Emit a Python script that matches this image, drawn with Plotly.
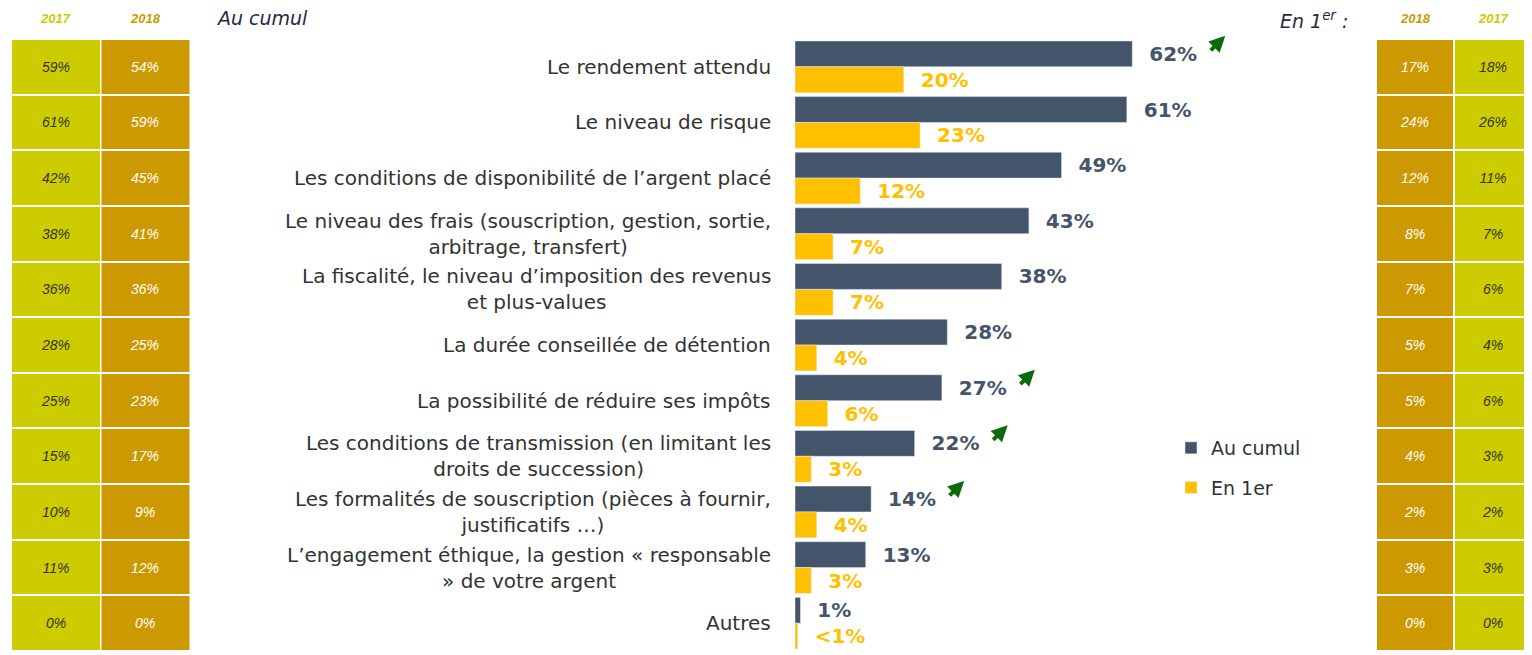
import plotly.graph_objects as go

# Critères de choix d'un placement
categories = [
    "Le rendement attendu",
    "Le niveau de risque",
    "Les conditions de disponibilité de l’argent placé",
    "Le niveau des frais (souscription, gestion, sortie,<br>arbitrage, transfert)",
    "La fiscalité, le niveau d’imposition des revenus<br>et plus-values",
    "La durée conseillée de détention",
    "La possibilité de réduire ses impôts",
    "Les conditions de transmission (en limitant les<br>droits de succession)",
    "Les formalités de souscription (pièces à fournir,<br>justificatifs …)",
    "L’engagement éthique, la gestion « responsable<br>» de votre argent",
    "Autres",
]
au_cumul = [62, 61, 49, 43, 38, 28, 27, 22, 14, 13, 1]
en_1er = [20, 23, 12, 7, 7, 4, 6, 3, 4, 3, 0.5]
en_1er_labels = ["20%", "23%", "12%", "7%", "7%", "4%", "6%", "3%", "4%", "3%", "<1%"]
hausse = [True, False, False, False, False, False, True, True, True, False, False]

years_left = ["2017", "2018"]
years_right = ["2018", "2017"]
cumul_2017 = [59, 61, 42, 38, 36, 28, 25, 15, 10, 11, 0]
cumul_2018 = [54, 59, 45, 41, 36, 25, 23, 17, 9, 12, 0]
premier_2018 = [17, 24, 12, 8, 7, 5, 5, 4, 2, 3, 0]
premier_2017 = [18, 26, 11, 7, 6, 4, 6, 3, 2, 3, 0]

DARK = "#44546A"
YEL = "#FFC000"
C2017 = "#CCCC00"
C2018 = "#CC9900"
FONT = "DejaVu Sans"

# the page body adds 8px around the figure
OFF = 8
W, H = 1532 - OFF, 655 - OFF


def px(x):
    return (x - OFF) / W


def py(y):
    return 1 - (y - OFF) / H


ids = list(range(len(categories)))
row_h = 55.64
top = 39 - OFF
y_range = [-0.5 + (H - top) / row_h, -0.5 - top / row_h]
scale = 5.44  # px per %

fig = go.Figure()

fig.add_trace(go.Bar(
    y=ids, x=au_cumul, orientation="h", name="Au cumul",
    marker_color=DARK, legendgroup="a",
    text=["  %d%%" % v for v in au_cumul], textposition="outside",
    textfont=dict(color=DARK, size=20, family=FONT, weight="bold"),
    cliponaxis=False, hoverinfo="skip",
))
fig.add_trace(go.Bar(
    y=ids, x=en_1er, orientation="h", name="En 1er",
    marker_color=YEL, legendgroup="b",
    text=["  " + t for t in en_1er_labels], textposition="outside",
    textfont=dict(color=YEL, size=20, family=FONT, weight="bold"),
    cliponaxis=False, hoverinfo="skip",
))


def cell_column(values, col, xaxis, color, txtcolor):
    fig.add_trace(go.Heatmap(
        x=[col], y=ids, z=[[1] for _ in values],
        text=[["%d%%" % v] for v in values], texttemplate="%{text}",
        textfont=dict(color=txtcolor, size=14, family="Liberation Sans", style="italic"),
        colorscale=[[0, color], [1, color]], zmin=0, zmax=2, showscale=False,
        xgap=2, ygap=2, xaxis=xaxis, yaxis="y", hoverinfo="skip",
    ))


cell_column(cumul_2017, 0, "x2", C2017, "#333333")
cell_column(cumul_2018, 1, "x2", C2018, "white")
cell_column(premier_2018, 0, "x3", C2018, "white")
cell_column(premier_2017, 1, "x3", C2017, "#333333")

annotations = []
for i, lab in enumerate(categories):
    annotations.append(dict(
        x=0, y=i, xref="x", yref="y", text=lab, showarrow=False,
        xanchor="right", xshift=-22, align="center",
        font=dict(size=20, color="#333333", family=FONT),
    ))
for i, up in enumerate(hausse):
    if up:
        annotations.append(dict(
            x=au_cumul[i], y=i, xref="x", yref="y", text="",
            showarrow=True, arrowhead=2, arrowsize=0.8, arrowwidth=4,
            arrowcolor="#0B6B0B", ax=-16, ay=16, xshift=93, yshift=31,
        ))

hdr = dict(size=13, family="Liberation Sans", weight="bold", style="italic")
for k, col in enumerate(years_left):
    annotations.append(dict(x=k, y=py(18), xref="x2", yref="paper", yanchor="middle",
                            text=col, showarrow=False,
                            font=dict(color=C2017 if col == "2017" else C2018, **hdr)))
for k, col in enumerate(years_right):
    annotations.append(dict(x=k, y=py(18), xref="x3", yref="paper", yanchor="middle",
                            text=col, showarrow=False,
                            font=dict(color=C2017 if col == "2017" else C2018, **hdr)))
annotations.append(dict(x=px(214), y=py(18), xref="paper", yref="paper", xanchor="left",
                        yanchor="middle", text="<i>Au cumul</i>", showarrow=False,
                        font=dict(size=19, color="#1F2A44", family=FONT)))
annotations.append(dict(x=px(1350), y=py(20), xref="paper", yref="paper", xanchor="right",
                        yanchor="middle", text="<i>En 1<sup>er</sup> :</i>",
                        showarrow=False, font=dict(size=19, color="#1F2A44", family=FONT)))

fig.update_layout(
    width=W, height=H, margin=dict(l=0, r=0, t=0, b=0),
    plot_bgcolor="white", paper_bgcolor="white",
    barmode="group", bargap=0.07, bargroupgap=0,
    xaxis=dict(domain=[px(795), px(1376)], range=[0, (1376 - 795) / scale],
               visible=False, fixedrange=True),
    xaxis2=dict(domain=[px(11), px(190)], range=[-0.5, 1.5], visible=False),
    xaxis3=dict(domain=[px(1376), 1.0], range=[-0.5, 1.5], visible=False),
    yaxis=dict(range=y_range, visible=False),
    showlegend=True,
    legend=dict(x=px(1171), y=py(429), xanchor="left", yanchor="top",
                font=dict(size=19, color="#333333", family=FONT),
                tracegroupgap=12, traceorder="grouped", itemwidth=30,
                bgcolor="rgba(0,0,0,0)"),
    annotations=annotations,
)

fig.write_html("out.html")
